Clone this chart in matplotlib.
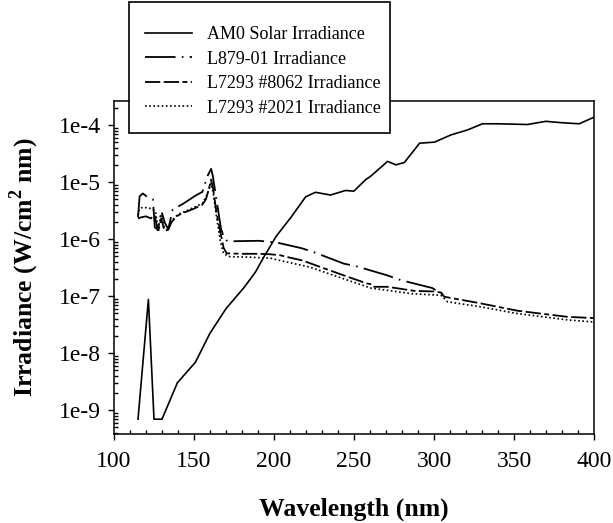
import numpy as np
import matplotlib
matplotlib.use('Agg')
import matplotlib.pyplot as plt
from matplotlib.ticker import FixedLocator, FuncFormatter, LogLocator, MultipleLocator, NullFormatter
from matplotlib.lines import Line2D
from matplotlib.patches import Rectangle

# ---------------- data ----------------
am0_wl = [115, 121.5, 125, 130, 139.6, 150.9, 159.9, 170, 181.2, 188.3, 193.4, 201.4,
          210.6, 219.8, 225.9, 235.3, 244.7, 249.9, 257.3, 260.4, 271, 276.2, 281.5,
          291, 300.3, 310.6, 321, 330.3, 339.7, 358.4, 369.9, 379.3, 390.7, 400]
am0_irr = [6.9e-10, 8.7e-8, 6.9e-10, 6.9e-10, 3.0e-9, 6.9e-9, 2.2e-8, 6.0e-8, 1.4e-7,
           2.6e-7, 4.7e-7, 1.12e-6, 2.4e-6, 5.5e-6, 6.6e-6, 5.9e-6, 7.1e-6, 6.9e-6,
           1.1e-5, 1.26e-5, 2.3e-5, 2.0e-5, 2.2e-5, 4.8e-5, 5.0e-5, 6.7e-5, 8.2e-5,
           1.05e-4, 1.05e-4, 1.02e-4, 1.16e-4, 1.1e-4, 1.05e-4, 1.37e-4]

l879_wl = [115, 116, 118, 120.7, 123.4, 124.3, 125.5, 127.4, 129.6, 131.7, 133.9, 136.7,
           142.9, 151.1, 155.2, 158.6, 160.7, 161.7, 164.6, 166.9, 169.1, 171.1, 180,
           190.8, 197.1, 201.5, 217.2, 224.7, 243.6, 251.9, 270.8, 279.2, 298.9, 306]
l879_irr = [2.4e-6, 5.6e-6, 6.3e-6, 5.5e-6, 5.1e-6, 5.0e-6, 1.6e-6, 1.47e-6, 3.1e-6,
            1.95e-6, 1.48e-6, 3.3e-6, 4.1e-6, 5.8e-6, 6.7e-6, 1.3e-5, 1.7e-5, 1.3e-5,
            3.9e-6, 1.5e-6, 1.0e-6, 9.1e-7, 9.2e-7, 9.3e-7, 8.9e-7, 8.7e-7, 6.9e-7,
            5.9e-7, 3.7e-7, 3.3e-7, 2.3e-7, 1.9e-7, 1.38e-7, 1.05e-7]

l8062_wl = [115, 117, 120, 123, 125.5, 127.5, 129.5, 131.5, 133.9, 136, 140, 145, 150,
            155.2, 157.5, 159.5, 160.7, 162, 164, 166.5, 168.5, 170.4, 180, 190, 197.5,
            203.7, 210, 217.8, 229.3, 243.6, 258.3, 261.5, 262.5, 270.9, 287.6, 300.1,
            304.5, 306.4, 327.3, 352.4, 383.7, 400]
l8062_irr = [2.3e-6, 2.4e-6, 2.5e-6, 2.3e-6, 2.6e-6, 1.3e-6, 2.3e-6, 1.4e-6, 1.45e-6,
             2.0e-6, 2.6e-6, 3.0e-6, 3.4e-6, 4.0e-6, 5.0e-6, 8.0e-6, 1.1e-5, 7.5e-6,
             3.0e-6, 1.3e-6, 7.0e-7, 5.6e-7, 5.5e-7, 5.5e-7, 5.4e-7, 5.2e-7, 4.7e-7,
             4.2e-7, 3.2e-7, 2.3e-7, 1.65e-7, 1.6e-7, 1.45e-7, 1.45e-7, 1.23e-7, 1.2e-7,
             1.15e-7, 9.7e-8, 7.6e-8, 5.5e-8, 4.3e-8, 4.1e-8]

l2021_wl = [115, 116, 118, 121, 124, 126, 127.5, 129.5, 131.5, 133.9, 136, 140, 145, 150,
            155.2, 157.5, 159.5, 160.7, 162, 164, 166.5, 168.5, 172.4, 185, 197.9, 202.1,
            222.6, 243.6, 260.4, 285.6, 304.3, 308.5, 327.3, 352.4, 383.7, 400]
l2021_irr = [2.6e-6, 3.4e-6, 3.6e-6, 3.5e-6, 3.4e-6, 3.0e-6, 1.5e-6, 2.6e-6, 1.6e-6,
             1.5e-6, 2.1e-6, 2.7e-6, 3.1e-6, 3.6e-6, 4.2e-6, 5.5e-6, 7.5e-6, 9.5e-6,
             6.5e-6, 2.5e-6, 9e-7, 5.5e-7, 4.9e-7, 4.8e-7, 4.6e-7, 4.3e-7, 3.2e-7,
             2.0e-7, 1.38e-7, 1.1e-7, 1.03e-7, 7.9e-8, 6.6e-8, 4.9e-8, 3.8e-8, 3.5e-8]

labels = ["AM0 Solar Irradiance", "L879-01 Irradiance",
          "L7293 #8062 Irradiance", "L7293 #2021 Irradiance"]
y_ticks = [1e-9, 1e-8, 1e-7, 1e-6, 1e-5, 1e-4]
x_ticks = [100, 150, 200, 250, 300, 350, 400]

# ---------------- style ----------------
plt.rcParams['font.family'] = ['Liberation Serif', 'DejaVu Serif']
plt.rcParams['mathtext.fontset'] = 'custom'
plt.rcParams['mathtext.rm'] = 'Liberation Serif'
plt.rcParams['mathtext.bf'] = 'Liberation Serif:bold'
plt.rcParams['lines.scale_dashes'] = False

W, H = 613, 523
fig = plt.figure(figsize=(W / 100, H / 100), dpi=100)
ax = fig.add_axes([114 / W, 1 - 434 / H, 480 / W, 333 / H])

styles = [
    dict(color='black', lw=1.2, linestyle='-'),
    dict(color='black', lw=1.3, linestyle=(0, (22, 4.5, 1.2, 4.5))),
    dict(color='black', lw=1.3, linestyle=(0, (11, 2.5, 11, 2.5, 3.5, 2.5))),
    dict(color='black', lw=1.2, linestyle=(0, (1.2, 1.8))),
]
series = [(am0_wl, am0_irr), (l879_wl, l879_irr), (l8062_wl, l8062_irr), (l2021_wl, l2021_irr)]
for (xs, ys), st in zip(series, styles):
    ax.plot(xs, ys, **st)

ax.set_yscale('log')
ax.set_xlim(100, 400)
ax.set_ylim(10 ** -9.421, 10 ** -3.579)

ax.xaxis.set_major_locator(FixedLocator(x_ticks))
ax.xaxis.set_minor_locator(MultipleLocator(10))
ax.yaxis.set_major_locator(FixedLocator(y_ticks))
ax.yaxis.set_minor_locator(LogLocator(base=10, subs=np.arange(2, 10), numticks=30))
ax.yaxis.set_minor_formatter(NullFormatter())
ax.yaxis.set_major_formatter(FuncFormatter(lambda v, p: "1e%d" % int(round(np.log10(v)))))

ax.tick_params(which='both', top=False, right=False, width=1.0, labelsize=17)
ax.tick_params(which='major', direction='out', length=4.5)
ax.tick_params(axis='x', which='major', pad=8)
ax.tick_params(axis='y', which='major', pad=5)
ax.tick_params(which='minor', direction='in', length=3)
for s in ax.spines.values():
    s.set_linewidth(1.1)

ax.set_xlabel("Wavelength (nm)", fontsize=18.5, fontweight='bold', labelpad=18)
ax.set_ylabel(r"Irradiance (W/cm$^{\mathbf{2}}$ nm)", fontsize=18.5, fontweight='bold')
ax.yaxis.set_label_coords(-0.153, 0.5)

# legend box (drawn on the figure, overlapping the top of the axes)
bx0, by0, bx1, by1 = 129, 2, 390, 133
fig.patches.append(Rectangle((bx0 / W, 1 - by1 / H), (bx1 - bx0) / W, (by1 - by0) / H,
                             transform=fig.transFigure, facecolor='white',
                             edgecolor='black', lw=1.2, zorder=4))
handles = [Line2D([], [], **st) for st in styles]
leg = fig.legend(handles, labels, loc='upper left',
                 bbox_to_anchor=(145 / W, 1 - 26 / H), bbox_transform=fig.transFigure,
                 frameon=False, fontsize=13, handlelength=2.6, handletextpad=0.85,
                 labelspacing=0.42, borderpad=0, borderaxespad=0)
leg.set_zorder(5)

fig.savefig("out.png", dpi=100)
